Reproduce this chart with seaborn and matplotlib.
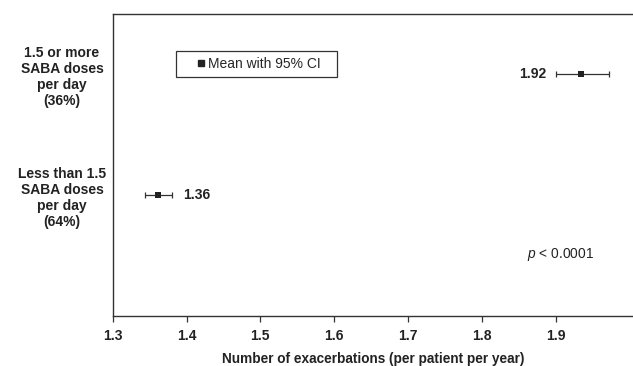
import matplotlib
matplotlib.use("Agg")
import matplotlib.pyplot as plt
import seaborn as sns
import pandas as pd
from matplotlib.lines import Line2D

categories = ["1.5 or more\nSABA doses\nper day\n(36%)",
              "Less than 1.5\nSABA doses\nper day\n(64%)"]
means = [1.935, 1.362]
ci_low = [1.900, 1.344]
ci_high = [1.972, 1.381]
value_labels = ["1.92", "1.36"]
xticks = [1.3, 1.4, 1.5, 1.6, 1.7, 1.8, 1.9]
xlabel = "Number of exacerbations (per patient per year)"
legend_label = "Mean with 95% CI"
p_text = "$p$ < 0.0001"

sns.set_style("white")
plt.rcParams['font.family'] = ['Liberation Sans', 'DejaVu Sans']
plt.rcParams['mathtext.fontset'] = 'custom'
plt.rcParams['mathtext.it'] = 'Liberation Sans:italic'

ypos = [2, 1]
df = pd.DataFrame({"cat": categories, "mean": means, "y": ypos,
                   "lo": ci_low, "hi": ci_high})

fig = plt.figure(figsize=(6.33, 3.66), dpi=100)
ax = fig.add_axes([112.7 / 633, (366 - 316) / 366, (633 - 112.7) / 633, 302 / 366])

dark = "#222222"
ax.errorbar(df["mean"], df["y"],
            xerr=[df["mean"] - df["lo"], df["hi"] - df["mean"]],
            fmt="none", ecolor="#333333", elinewidth=0.9, capsize=2.2, capthick=0.9, zorder=2)
sns.scatterplot(data=df, x="mean", y="y", marker="s", s=16, color=dark,
                edgecolor=dark, linewidth=0, ax=ax, zorder=3, legend=False)

# value labels
ax.text(df["mean"][1] + 0.034, ypos[1], value_labels[1], fontsize=10, fontweight="bold",
        color=dark, ha="left", va="center")
ax.text(df["lo"][0] - 0.012, ypos[0], value_labels[0], fontsize=10, fontweight="bold",
        color=dark, ha="right", va="center")

ax.set_xlim(1.3, 2.005)
ax.set_ylim(0, 2.5)
ax.set_xticks(xticks)
ax.set_xticklabels([f"{t:.1f}" for t in xticks], fontsize=10, fontweight="bold", color=dark)
ax.tick_params(axis="x", direction="out", length=4, width=0.9, color="#333333", pad=5, bottom=True)
ax.set_yticks(ypos)
ax.set_yticklabels(categories, fontsize=10, fontweight="bold", color=dark,
                   ha="center", linespacing=1.18)
ax.tick_params(axis="y", length=0, pad=36.5)
ax.set_xlabel(xlabel, fontsize=9.8, fontweight="bold", color=dark, labelpad=7)
ax.set_ylabel("")

for s in ["left", "top", "bottom"]:
    ax.spines[s].set_color("#333333")
    ax.spines[s].set_linewidth(1.0)
ax.spines["right"].set_visible(False)

handle = Line2D([], [], marker="s", color=dark, linestyle="none", markersize=3.8)
leg_h = 26 / 302
leg = ax.legend([handle], [legend_label], loc="upper left",
                bbox_to_anchor=(0.121, 0.877 - leg_h, 0.311, leg_h), mode="expand",
                borderaxespad=0, fancybox=False,
                frameon=True, edgecolor="#333333", fontsize=10, handlelength=2.8,
                handletextpad=-0.93, borderpad=0.43, framealpha=1)
leg.get_frame().set_linewidth(0.9)

ax.text(0.86, 0.202, p_text, transform=ax.transAxes, fontsize=9.9, color=dark,
        ha="center", va="center")

fig.savefig("out.png", dpi=100)
